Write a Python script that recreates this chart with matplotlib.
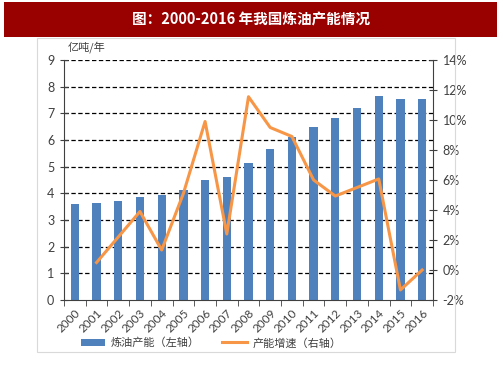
import numpy as np
import matplotlib.pyplot as plt
from matplotlib.patches import Rectangle
from matplotlib.ticker import FuncFormatter

plt.rcParams['font.family'] = ['Noto Sans CJK SC', 'DejaVu Sans']

# data
years = [str(y) for y in range(2000, 2017)]
capacity = [3.60, 3.62, 3.71, 3.86, 3.92, 4.12, 4.50, 4.63, 5.15, 5.65,
            6.12, 6.50, 6.81, 7.21, 7.65, 7.54, 7.54]
growth = [np.nan, 0.5, 2.2, 3.9, 1.33, 5.1, 9.9, 2.4, 11.55, 9.5,
          8.9, 6.0, 4.93, 5.5, 6.07, -1.33, 0.0]

title = '图：2000-2016 年我国炼油产能情况'
bar_label = '炼油产能（左轴）'
line_label = '产能增速（右轴）'
unit_label = '亿吨/年'

blue = '#4f81bd'
orange = '#f79646'
spine_col = '#404040'
num_font = ['Lato', 'DejaVu Sans']

fig = plt.figure(figsize=(5.03, 3.78), dpi=100)

# title banner and frame
fig.patches.append(Rectangle((4 / 503, 1 - 37 / 378), 493 / 503, 35 / 378,
                             transform=fig.transFigure, facecolor='#990000',
                             edgecolor='none', zorder=0))
fig.text(0.5, 1 - 19 / 378, title, color='white', fontsize=10.5,
         fontweight='bold', ha='center', va='center')
fig.patches.append(Rectangle((37 / 503, 1 - 352 / 378), 418 / 503, 314 / 378,
                             transform=fig.transFigure, facecolor='none',
                             edgecolor='#d9d9d9', linewidth=0.8, zorder=0))

ax = fig.add_axes([64 / 503, 78 / 378, 369 / 503, 240 / 378])
x = np.arange(len(years))
bars = ax.bar(x, capacity, width=0.38, color=blue, zorder=2, label=bar_label)
ax.set_xlim(-0.5, len(years) - 0.5)
ax.set_ylim(0, 9)
ax.set_yticks(range(0, 10))
ax.set_xticks(x)
ax.set_xticklabels(years, rotation=45, ha='right', rotation_mode='anchor',
                   family=num_font)
ax.set_xticks(np.arange(-0.5, len(years), 1), minor=True)
ax.tick_params(axis='x', which='major', length=0, pad=5, labelsize=8.5,
               colors='#404040')
ax.tick_params(axis='x', which='minor', length=4, direction='out',
               color=spine_col)
ax.tick_params(axis='y', length=6, direction='inout', color=spine_col,
               labelsize=9, labelcolor='#404040', pad=4)
for lbl in ax.get_yticklabels():
    lbl.set_family(num_font)
for y in range(1, 10):
    ax.axhline(y, color='black', linestyle=(0, (3.5, 2)), linewidth=0.9,
               zorder=1)
ax.spines['top'].set_visible(False)
ax.spines['right'].set_visible(False)
ax.spines['left'].set_color(spine_col)
ax.spines['bottom'].set_color(spine_col)
ax.text(0.01, 1.03, unit_label, transform=ax.transAxes, fontsize=8,
        color='#404040', ha='left', va='bottom')

ax2 = ax.twinx()
line, = ax2.plot(x, growth, color=orange, linewidth=2.2, zorder=3,
                 label=line_label)
ax2.set_ylim(-2, 14)
ax2.set_yticks(range(-2, 15, 2))
ax2.yaxis.set_major_formatter(FuncFormatter(lambda v, p: f'{int(v)}%'))
ax2.tick_params(axis='y', length=6, direction='inout', color=spine_col,
                labelsize=9, labelcolor='#404040', pad=4)
for lbl in ax2.get_yticklabels():
    lbl.set_family(num_font)
for s in ['top', 'left', 'bottom']:
    ax2.spines[s].set_visible(False)
ax2.spines['right'].set_color(spine_col)

fig.legend([bars, line], [bar_label, line_label], loc='center',
           bbox_to_anchor=(211 / 503, 1 - 343 / 378), ncol=2, frameon=False,
           fontsize=8, handlelength=2.2, handletextpad=0.5, columnspacing=2.0,
           labelcolor='#404040')

fig.savefig('out.png', dpi=100)
